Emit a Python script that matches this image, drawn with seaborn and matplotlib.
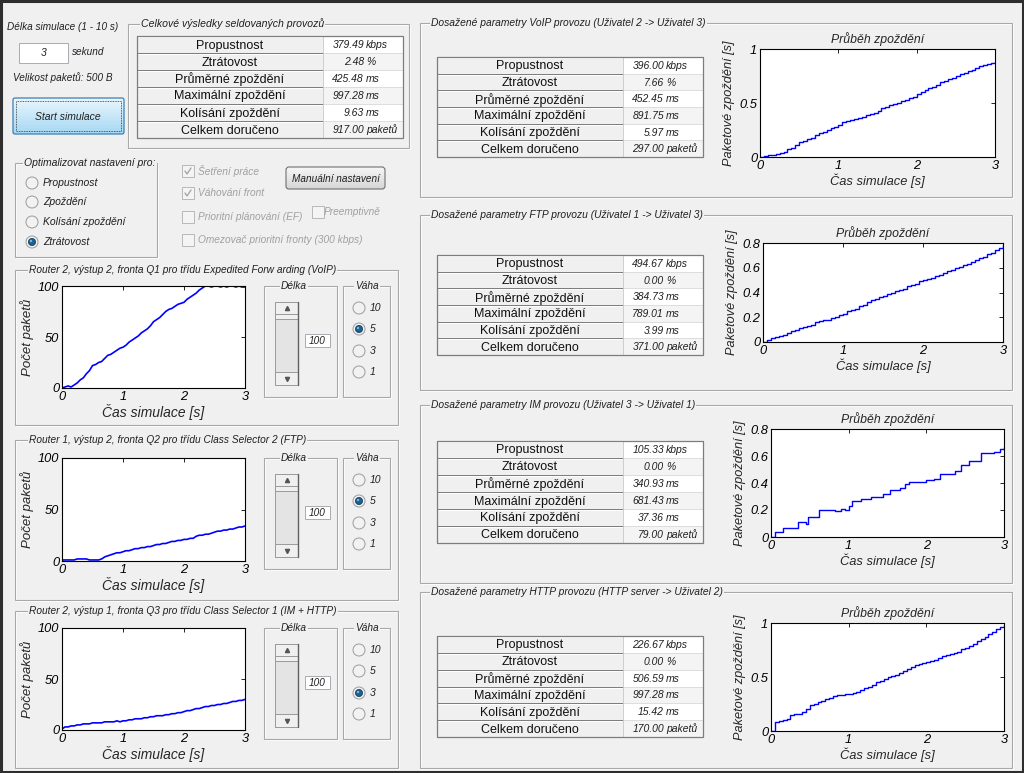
import numpy as np
import matplotlib
matplotlib.use("Agg")
import matplotlib.pyplot as plt
import seaborn as sns
from matplotlib.patches import Rectangle, Circle, FancyBboxPatch
from matplotlib.ticker import FormatStrFormatter
from matplotlib.colors import to_rgb

# ---------------- data ----------------
row_labels = ['Propustnost', 'Ztrátovost', 'Průměrné zpoždění',
              'Maximální zpoždění', 'Kolísání zpoždění', 'Celkem doručeno']
row_units = ['kbps', '%', 'ms', 'ms', 'ms', 'paketů']

total_vals = [379.49, 2.48, 425.48, 997.28, 9.63, 917.00]
voip_vals = [396.00, 7.66, 452.45, 891.75, 5.97, 297.00]
ftp_vals = [494.67, 0.00, 384.73, 789.01, 3.99, 371.00]
im_vals = [105.33, 0.00, 340.93, 681.43, 37.36, 79.00]
http_vals = [226.67, 0.00, 506.59, 997.28, 15.42, 170.00]

# time samples every 0.05 s
time_s = [0.00, 0.05, 0.10, 0.15, 0.20, 0.25, 0.30, 0.35, 0.40, 0.45,
          0.50, 0.55, 0.60, 0.65, 0.70, 0.75, 0.80, 0.85, 0.90, 0.95,
          1.00, 1.05, 1.10, 1.15, 1.20, 1.25, 1.30, 1.35, 1.40, 1.45,
          1.50, 1.55, 1.60, 1.65, 1.70, 1.75, 1.80, 1.85, 1.90, 1.95,
          2.00, 2.05, 2.10, 2.15, 2.20, 2.25, 2.30, 2.35, 2.40, 2.45,
          2.50, 2.55, 2.60, 2.65, 2.70, 2.75, 2.80, 2.85, 2.90, 2.95, 3.00]

# queue length (packets)
queue_q1 = [0, 1, 2, 1, 3, 5, 8, 10, 14, 17,
            22, 23, 25, 26, 29, 32, 33, 35, 37, 39,
            40, 42, 45, 47, 49, 51, 54, 56, 58, 61,
            65, 67, 69, 72, 75, 77, 78, 80, 82, 83,
            84, 87, 89, 91, 93, 96, 98, 100, 100, 99,
            100, 100, 99, 100, 99, 100, 100, 99, 100, 99, 99]
queue_q2 = [1, 1, 1, 1, 1, 2, 2, 2, 2, 1,
            1, 1, 1, 2, 4, 5, 6, 7, 8, 8,
            9, 10, 10, 11, 12, 12, 13, 13, 14, 14,
            15, 16, 16, 17, 17, 18, 19, 19, 20, 20,
            21, 21, 22, 22, 24, 25, 25, 26, 26, 27,
            28, 29, 29, 30, 30, 31, 31, 32, 33, 33, 34]
queue_q3 = [1, 3, 3, 4, 4, 5, 5, 6, 6, 6,
            7, 7, 7, 7, 8, 8, 8, 8, 9, 8,
            9, 9, 10, 10, 11, 11, 11, 12, 12, 13,
            13, 14, 14, 14, 15, 15, 16, 16, 17, 17,
            18, 19, 19, 20, 21, 21, 22, 23, 23, 24,
            24, 25, 25, 26, 26, 27, 28, 28, 29, 29, 30]

# packet delay (s), step curves
delay_voip = [0.00, 0.01, 0.02, 0.02, 0.03, 0.04, 0.05, 0.07, 0.08, 0.11,
              0.14, 0.15, 0.17, 0.18, 0.20, 0.22, 0.23, 0.25, 0.27, 0.28,
              0.30, 0.32, 0.33, 0.34, 0.35, 0.36, 0.37, 0.39, 0.40, 0.41,
              0.43, 0.45, 0.46, 0.48, 0.49, 0.50, 0.52, 0.53, 0.55, 0.56,
              0.58, 0.60, 0.62, 0.64, 0.65, 0.67, 0.69, 0.70, 0.72, 0.73,
              0.75, 0.77, 0.78, 0.80, 0.81, 0.82, 0.84, 0.85, 0.86, 0.87, 0.88]
delay_ftp = [0.00, 0.02, 0.03, 0.04, 0.05, 0.06, 0.07, 0.09, 0.10, 0.11,
             0.12, 0.13, 0.14, 0.16, 0.17, 0.18, 0.18, 0.19, 0.20, 0.22,
             0.23, 0.25, 0.26, 0.27, 0.29, 0.30, 0.32, 0.34, 0.35, 0.36,
             0.37, 0.39, 0.40, 0.41, 0.42, 0.43, 0.45, 0.46, 0.47, 0.49,
             0.50, 0.51, 0.52, 0.53, 0.54, 0.56, 0.57, 0.58, 0.60, 0.61,
             0.62, 0.63, 0.65, 0.66, 0.68, 0.69, 0.71, 0.72, 0.74, 0.76, 0.78]
delay_http = [0.00, 0.08, 0.09, 0.10, 0.11, 0.15, 0.16, 0.16, 0.18, 0.20,
              0.24, 0.25, 0.27, 0.28, 0.30, 0.31, 0.32, 0.33, 0.33, 0.34,
              0.34, 0.35, 0.36, 0.38, 0.40, 0.41, 0.43, 0.45, 0.46, 0.48,
              0.50, 0.51, 0.52, 0.54, 0.56, 0.57, 0.59, 0.61, 0.62, 0.63,
              0.64, 0.65, 0.66, 0.68, 0.69, 0.70, 0.71, 0.72, 0.73, 0.76,
              0.77, 0.79, 0.81, 0.83, 0.85, 0.87, 0.90, 0.92, 0.94, 0.96, 0.98]
time_im = [0, 0.05, 0.15, 0.35, 0.45, 0.47, 0.62, 0.82, 0.9, 0.95,
           1.0, 1.04, 1.16, 1.29, 1.44, 1.53, 1.66, 1.72, 1.78, 2.0,
           2.1, 2.18, 2.37, 2.45, 2.55, 2.7, 2.87, 2.95, 3.0]
delay_im = [0.00, 0.04, 0.07, 0.11, 0.10, 0.15, 0.20, 0.19, 0.21, 0.20,
            0.23, 0.27, 0.28, 0.30, 0.32, 0.35, 0.36, 0.39, 0.41, 0.42,
            0.43, 0.47, 0.49, 0.53, 0.56, 0.62, 0.63, 0.65, 0.67]

# ---------------- figure setup ----------------
W, H = 1024, 773
BG = '#f0f0f0'
sns.set_style("white")
plt.rcParams['font.family'] = ['Liberation Sans', 'DejaVu Sans']
plt.rcParams['font.style'] = 'italic'

fig = plt.figure(figsize=(W / 100, H / 100), dpi=100, facecolor=BG)
ov = fig.add_axes([0, 0, 1, 1])
ov.set_facecolor(BG)
ov.axis('off')


def px_axes(x0, y0, x1, y1):
    return fig.add_axes([x0 / W, 1 - y1 / H, (x1 - x0) / W, (y1 - y0) / H])


def gradient(x0, y0, x1, y1, c_top, c_bot):
    a = np.array(to_rgb(c_top))
    b = np.array(to_rgb(c_bot))
    f = np.linspace(0, 1, 40).reshape(-1, 1, 1)
    img = a * (1 - f) + b * f
    ov.imshow(img, extent=(x0, x1, y1, y0), origin='upper', aspect='auto',
              interpolation='bilinear', zorder=1)


def frame(x0, y0, x1, y1, title=None, tx=None, fs=7.3):
    ov.add_patch(Rectangle((x0 + 1, y0 + 1), x1 - x0, y1 - y0, fill=False, ec='white', lw=0.8, zorder=1))
    ov.add_patch(Rectangle((x0, y0), x1 - x0, y1 - y0, fill=False, ec='#a8a8a8', lw=0.8, zorder=1))
    if title:
        ov.text(x0 + 8 if tx is None else tx, y0, title, fontsize=fs, ha='left', va='center',
                color='#202020', zorder=3, bbox=dict(fc=BG, ec='none', pad=0.8))


def table(x0, y0, x1, y1, sep, vals):
    rh = (y1 - y0) / len(row_labels)
    for i, (lab, v, u) in enumerate(zip(row_labels, vals, row_units)):
        ya = y0 + i * rh
        ov.add_patch(Rectangle((x0, ya), sep - x0, rh, fc='#f0f0f0', ec='#7d7d7d', lw=0.7, zorder=2))
        ov.plot([x0 + 1, sep - 1], [ya + 1, ya + 1], color='white', lw=0.7, zorder=2)
        ov.add_patch(Rectangle((sep, ya), x1 - sep, rh, fc='white' if i % 2 == 0 else '#f4f4f4',
                               ec='#d8d8d8', lw=0.5, zorder=2))
        ov.text((x0 + sep) / 2, ya + rh / 2 + 1, lab, fontsize=9, style='normal',
                ha='center', va='center', color='#101010', zorder=3)
        base = ya + rh / 2 + 3.5
        ov.text(sep + 41, base, f'{v:.2f}', fontsize=7.5, ha='right', va='baseline',
                color='#202020', zorder=3)
        ov.text(sep + 43, base, u, fontsize=7.5, ha='left', va='baseline',
                color='#202020', zorder=3)
    ov.add_patch(Rectangle((x0, y0), x1 - x0, y1 - y0, fill=False, ec='#7d7d7d', lw=0.9, zorder=3))


def radio(x, y, label, selected, fs=7.5):
    ov.add_patch(Circle((x, y), 6, fc='#f2f2f2', ec='#9c9c9c', lw=0.7, zorder=2))
    if selected:
        ov.add_patch(Circle((x, y), 3.6, fc='#1d5f8e', ec='#0c3a5c', lw=0.5, zorder=3))
        ov.add_patch(Circle((x - 1, y - 1), 1.2, fc='#7fb6dc', ec='none', zorder=4))
    ov.text(x + 11, y, label, fontsize=fs, ha='left', va='center', color='#202020', zorder=3)


def checkbox(x, y, label, checked, tx=None):
    ov.add_patch(Rectangle((x, y - 6), 12, 12, fc='#f4f4f4', ec='#b8b8b8', lw=0.7, zorder=2))
    if checked:
        ov.plot([x + 3, x + 5, x + 9], [y, y + 3, y - 3], color='#a8a8a8', lw=1.0, zorder=3)
    ov.text(x + 16 if tx is None else tx, y, label, fontsize=7.3, ha='left', va='center',
            color='#a0a0a0', zorder=3)


def scrollbar(x0, y0, x1, y1):
    ov.add_patch(Rectangle((x0, y0), x1 - x0, y1 - y0, fc='#e4e4e4', ec='#9a9a9a', lw=0.7, zorder=2))
    ov.add_patch(Rectangle((x0, y0), x1 - x0, 12, fc='#f0f0f0', ec='#9a9a9a', lw=0.7, zorder=3))
    ov.add_patch(Rectangle((x0, y0 + 12), x1 - x0, 5, fc='#f0f0f0', ec='#9a9a9a', lw=0.7, zorder=3))
    ov.add_patch(Rectangle((x0, y1 - 13), x1 - x0, 13, fc='#f0f0f0', ec='#9a9a9a', lw=0.7, zorder=3))
    ov.plot([x1, x1], [y0, y1], color='#606060', lw=1.0, zorder=4)
    xm = (x0 + x1) / 2
    ov.plot([xm], [y0 + 6], marker='^', ms=3, color='#555555', zorder=4)
    ov.plot([xm], [y1 - 6.5], marker='v', ms=3, color='#555555', zorder=4)


def edit(x0, y0, x1, y1, txt, fs=7.5):
    ov.add_patch(Rectangle((x0, y0), x1 - x0, y1 - y0, fc='white', ec='#a9abb0', lw=0.7, zorder=2))
    ov.text((x0 + x1) / 2, (y0 + y1) / 2, txt, fontsize=fs, ha='center', va='center',
            color='#202020', zorder=3)


def style_ax(ax, ylim, yticks):
    ax.set_facecolor('white')
    ax.set_xlim(0, 3)
    ax.set_ylim(*ylim)
    ax.set_xticks([0, 1, 2, 3])
    ax.set_yticks(yticks)
    ax.xaxis.set_major_formatter(FormatStrFormatter('%g'))
    ax.yaxis.set_major_formatter(FormatStrFormatter('%g'))
    ax.tick_params(direction='in', top=True, right=True, length=3, width=0.6,
                   labelsize=9.3, pad=2, colors='black')
    for lab in ax.get_xticklabels() + ax.get_yticklabels():
        lab.set_fontstyle('italic')
    for s in ax.spines.values():
        s.set_visible(True)
        s.set_color('black')
        s.set_linewidth(0.8)


# ---------------- background ----------------
ov.add_patch(Rectangle((0, 0), W, H, fc=BG, ec='none', zorder=0))

# ---------------- top-left controls ----------------
ov.text(7, 27, 'Délka simulace (1 - 10 s)', fontsize=7.2, ha='left', va='center', color='#202020')
edit(19, 43, 68, 63, '3')
ov.text(72, 52, 'sekund', fontsize=7.2, ha='left', va='center', color='#202020')
ov.text(13, 78, 'Velikost paketů: 500 B', fontsize=7.2, ha='left', va='center', color='#202020')

gradient(13, 98, 124, 134, '#eaf6fd', '#a6d8f4')
ov.add_patch(FancyBboxPatch((13, 98), 111, 36, boxstyle='round,pad=0,rounding_size=2',
                            fill=False, ec='#3c7fb1', lw=0.9, zorder=2))
ov.add_patch(Rectangle((16, 101), 105, 30, fill=False, ec='#303030', lw=0.6, ls=(0, (1, 1)), zorder=2))
ov.text(68, 117, 'Start simulace', fontsize=7.5, ha='center', va='center', color='#202020', zorder=3)

frame(128, 24, 409, 148, 'Celkové výsledky seldovaných provozů', tx=141, fs=7.6)
table(137, 36, 403, 138, 323, total_vals)

frame(15, 163, 157, 257, 'Optimalizovat nastavení pro:', tx=24, fs=7.5)
for yy, lab, sel in zip([183, 202, 222, 242],
                        ['Propustnost', 'Zpoždění', 'Kolísání zpoždění', 'Ztrátovost'],
                        [False, False, False, True]):
    radio(32, yy, lab, sel)

checkbox(182, 171, 'Šetření práce', True)
checkbox(182, 193, 'Váhování front', True)
checkbox(182, 217, 'Prioritní plánování (EF)', False)
checkbox(312, 212, 'Preemptivně', False, tx=324)
checkbox(182, 240, 'Omezovač prioritní fronty (300 kbps)', False)

gradient(286, 167, 385, 189, '#f6f6f6', '#d6d6d6')
ov.add_patch(FancyBboxPatch((286, 167), 99, 22, boxstyle='round,pad=0,rounding_size=3',
                            fill=False, ec='#707070', lw=0.8, zorder=2))
ov.text(335.5, 178.5, 'Manuální nastavení', fontsize=7.2, ha='center', va='center', color='#202020', zorder=3)

# ---------------- router queue panels ----------------
routers = [
    ('Router 2, výstup 2, fronta Q1 pro třídu Expedited Forw arding (VoIP)', 270, 425, 286, 388, queue_q1, 1),
    ('Router 1, výstup 2, fronta Q2 pro třídu Class Selector 2 (FTP)', 440, 600, 458, 561, queue_q2, 1),
    ('Router 2, výstup 1, fronta Q3 pro třídu Class Selector 1 (IM + HTTP)', 611, 768, 628, 730, queue_q3, 2),
]
weights = ['10', '5', '3', '1']
for title, fy0, fy1, ay0, ay1, qv, sel in routers:
    frame(15, fy0, 398, fy1, title, tx=29, fs=7.3)
    ax = px_axes(62, ay0, 245, ay1)
    sns.lineplot(x=time_s, y=qv, ax=ax, color='#0000ff', lw=1.2, estimator=None, legend=False)
    style_ax(ax, (0, 100), [0, 50, 100])
    ax.set_xlabel('Čas simulace [s]', fontsize=10, style='italic', labelpad=1)
    ax.set_ylabel('Počet paketů', fontsize=9.5, style='italic', labelpad=3)

    top = ay0
    frame(264, top, 337, top + 111, 'Délka', tx=281)
    scrollbar(275, top + 16, 298, top + 99)
    edit(305, top + 48, 330, top + 61, '100', fs=7.2)
    frame(343, top, 390, top + 111, 'Váha', tx=355)
    for k, (dy, wl) in enumerate(zip([22, 43, 65, 86], weights)):
        radio(359, top + dy, wl, k == sel, fs=7.5)

# ---------------- right result panels ----------------
flows = [
    ('Dosažené parametry VoIP provozu (Uživatel 2 -> Uživatel 3)', 23, 197, 57, 157, voip_vals,
     (760, 49, 995, 157), time_s, delay_voip, (0, 1), [0, 0.5, 1]),
    ('Dosažené parametry FTP provozu (Uživatel 1 -> Uživatel 3)', 215, 390, 255, 355, ftp_vals,
     (763, 243, 1003, 342), time_s, delay_ftp, (0, 0.8), [0, 0.2, 0.4, 0.6, 0.8]),
    ('Dosažené parametry IM provozu (Uživatel 3 -> Uživatel 1)', 405, 583, 441, 543, im_vals,
     (771, 429, 1004, 537), time_im, delay_im, (0, 0.8), [0, 0.2, 0.4, 0.6, 0.8]),
    ('Dosažené parametry HTTP provozu (HTTP server -> Uživatel 2)', 592, 768, 636, 737, http_vals,
     (771, 623, 1004, 731), time_s, delay_http, (0, 1), [0, 0.5, 1]),
]
for title, fy0, fy1, ty0, ty1, vals, box, tx_, dv, ylim, yt in flows:
    frame(420, fy0, 1012, fy1, title, tx=431, fs=7.4)
    table(437, ty0, 703, ty1, 623, vals)
    ax = px_axes(*box)
    sns.lineplot(x=tx_, y=dv, ax=ax, color='#0000ff', lw=1.0, drawstyle='steps-post',
                 estimator=None, legend=False)
    style_ax(ax, ylim, yt)
    ax.set_title('Průběh zpoždění', fontsize=8.8, style='italic', pad=4)
    ax.set_xlabel('Čas simulace [s]', fontsize=9.3, style='italic', labelpad=1)
    ax.set_ylabel('Paketové zpoždění [s]', fontsize=9.2, style='italic', labelpad=3)

# outer dark border of the screenshot
ov.add_patch(Rectangle((0.5, 0.5), W - 2, H - 2, fill=False, ec='#2e2e2e', lw=2.2, zorder=5))
ov.set_xlim(0, W)
ov.set_ylim(H, 0)

fig.savefig('out.png', dpi=100, facecolor=BG)
